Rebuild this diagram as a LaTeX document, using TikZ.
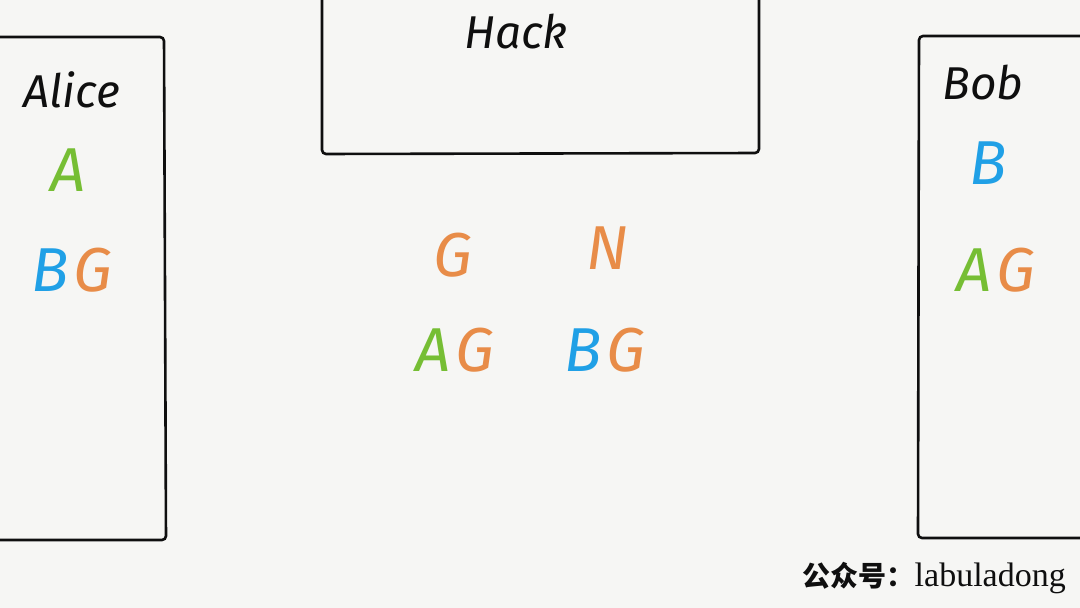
\documentclass[tikz,border=0pt]{standalone}
\usepackage{fontspec}
\setmainfont{Liberation Serif}
\newfontfamily\hand{Fira Sans}[Scale=1]
\newfontfamily\cjk{Noto Sans CJK SC}
\definecolor{bgc}{RGB}{246,246,244}
\definecolor{gre}{RGB}{118,190,52}
\definecolor{blu}{RGB}{32,160,230}
\definecolor{ora}{RGB}{232,140,72}
\definecolor{ink}{RGB}{15,15,15}
\newcommand{\gp}{\hspace{5pt}}
\begin{document}
\begin{tikzpicture}[x=1pt,y=-1pt,
  panel/.style={draw=ink,line width=2.6pt,rounded corners=4pt},
  title/.style={font=\hand\itshape\fontsize{46}{46}\selectfont,text=ink,inner sep=0pt},
  letters/.style={font=\hand\itshape\fontsize{62}{62}\selectfont,inner sep=0pt}]
\fill[bgc] (0,0) rectangle (1080,608);
\useasboundingbox (0,0) rectangle (1080,608);
% boxes
\draw[panel] (-10,37) -- (164,37) -- (166,540) -- (-10,540);
\draw[panel] (322,-10) -- (322,154) -- (759,153) -- (759,-10);
\draw[panel] (1090,36) -- (919,36) -- (918,538) -- (1090,538);
% titles
\node[title] (alice) at (72,90) {Alice};
\node[title] (hack) at (516,32) {Hack};
\node[title] (bob) at (983,83) {Bob};
% Alice keys
\node[letters,text=gre] (aA) at (68,170) {A};
\node[letters] (aBG) at (72,270) {\textcolor{blu}{B}\gp\textcolor{ora}{G}};
% Bob keys
\node[letters,text=blu] (bB) at (988,163) {B};
\node[letters] (bAG) at (996,270) {\textcolor{gre}{A}\gp\textcolor{ora}{G}};
% public values
\node[letters,text=ora] (g) at (453,255) {G};
\node[letters,text=ora] (n) at (607,248) {N};
\node[letters] (ag) at (455,350) {\textcolor{gre}{A}\gp\textcolor{ora}{G}};
\node[letters] (bg) at (605,350) {\textcolor{blu}{B}\gp\textcolor{ora}{G}};
% watermark
\node[anchor=east,inner sep=0pt,text=ink] (wm) at (1066,578)
  {{\cjk\bfseries\fontsize{28}{28}\selectfont 公众号：}{\fontsize{34}{34}\selectfont labuladong}};
\end{tikzpicture}
\end{document}
